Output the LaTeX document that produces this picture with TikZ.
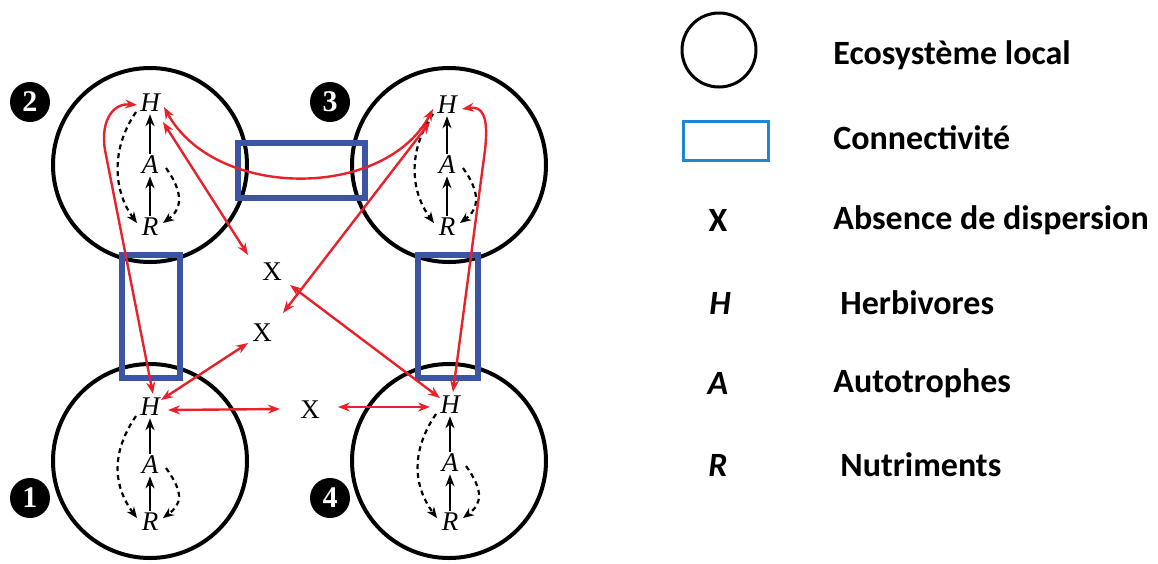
\documentclass[tikz,border=0pt]{standalone}
\usepackage{fontspec}
\setmainfont{Liberation Serif}
\newfontfamily\legfont{Carlito}
\usetikzlibrary{arrows.meta,calc}
\definecolor{redarr}{HTML}{E8222B}
\definecolor{boxblue}{HTML}{3B55A2}
\definecolor{legblue}{HTML}{1F86CF}
\tikzset{
  eco/.style={circle,draw=black,line width=2pt,minimum size=97pt,inner sep=0pt},
  badge/.style={circle,fill=black,minimum size=20pt,inner sep=0pt,text=white,font=\bfseries\fontsize{15}{15}\selectfont},
  sp/.style={inner sep=1pt,font=\itshape\fontsize{13.5}{13.5}\selectfont},
  xlab/.style={inner sep=1pt,font=\fontsize{13.5}{13.5}\selectfont},
  feed/.style={-{Stealth[length=6pt,width=4.5pt]},line width=1.4pt},
  recyc/.style={-{Stealth[length=5.5pt,width=4.5pt]},line width=1.1pt,dash pattern=on 2.5pt off 2pt},
  conn/.style={draw=boxblue,line width=3pt},
  disp/.style={{Stealth[length=6pt,width=4.5pt]}-{Stealth[length=6pt,width=4.5pt]},draw=redarr,line width=1.2pt},
  legtext/.style={anchor=west,inner sep=0pt,font=\legfont\bfseries\fontsize{17}{17}\selectfont},
  legsym/.style={inner sep=0pt,font=\legfont\bfseries\fontsize{17}{17}\selectfont},
}
\newcommand\foodweb[5]{%
  \node[sp] (H#1) at (#2,#3) {H};
  \node[sp] (A#1) at (#2,#4) {A};
  \node[sp] (R#1) at (#2,#5) {R};
  \draw[feed] (A#1.north) -- (H#1.south);
  \draw[feed] (R#1.north) -- (A#1.south);
  \draw[recyc] ($(H#1)+(-14,9)$) .. controls ($(H#1)+(-42,50)$) and ($(R#1)+(-34,-32)$) .. ($(R#1)+(-13,-4)$);
  \draw[recyc] ($(A#1)+(16,3)$) .. controls ($(A#1)+(34,28)$) and ($(R#1)+(32,-18)$) .. ($(R#1)+(13,-4)$);
}
\begin{document}
\begin{tikzpicture}[x=0.5pt,y=-0.5pt]
\useasboundingbox (0,0) rectangle (1158,563);
% ecosystems
\node[eco] (c2) at (150,165) {};
\node[eco] (c3) at (449,165) {};
\node[eco] (c1) at (150,461) {};
\node[eco] (c4) at (449,461) {};
% badges
\node[badge] (n2) at (30,102) {2};
\node[badge] (n3) at (330,102) {3};
\node[badge] (n1) at (30,498) {1};
\node[badge] (n4) at (330,498) {4};
% food webs
\foodweb{2}{150}{103}{165}{227}
\foodweb{3}{447}{105}{165}{227}
\foodweb{1}{150}{407}{465}{522}
\foodweb{4}{450}{405}{463}{522}
% connectivity boxes
\draw[conn] (238,143) rectangle (365,198);
\draw[conn] (122,255) rectangle (180,378);
\draw[conn] (418,255) rectangle (478,378);
% no dispersion marks
\node[xlab] (X1) at (272,272) {X};
\node[xlab] (X2) at (262,333) {X};
\node[xlab] (X3) at (310,410) {X};
% dispersion arrows
\draw[disp] ($(H2)+(14,4)$) .. controls (215,200) and (385,200) .. ($(H3)+(-14,4)$);
\draw[disp] ($(H2)+(13,19)$) -- ($(X1)+(-24,-17)$);
\draw[disp] ($(H3)+(-17,17)$) -- ($(X2)+(21,-20)$);
\draw[disp] ($(X1)+(18,13)$) -- ($(H4)+(-10,-7)$);
\draw[disp] ($(H1)+(11,-7)$) -- ($(X2)+(-14,10)$);
\draw[disp] ($(H1)+(18,3)$) -- ($(X3)+(-30,-1)$);
\draw[disp] ($(X3)+(28,-3)$) -- ($(H4)+(-20,2)$);
\draw[disp] ($(H1)+(3,-13)$) -- (105,150) .. controls (100,118) and (115,103) .. ($(H2)+(-13,2)$);
\draw[disp] ($(H4)+(3,-13)$) -- (485,150) .. controls (489,115) and (482,106) .. ($(H3)+(15,4)$);
% legend
\node[circle,draw=black,line width=1.5pt,minimum size=37pt,inner sep=0pt] (lc) at (719,50) {};
\node[legtext] (t1) at (833,55) {Ecosystème local};
\draw[draw=legblue,line width=1.5pt] (683,121) rectangle (768,160);
\node[legtext] (t2) at (833,138) {Connectivité};
\node[legsym] (lx) at (718,220) {X};
\node[legtext] (t3) at (833,220) {Absence de dispersion};
\node[legsym] (lh) at (720,303) {\itshape H};
\node[legtext] (t4) at (840,303) {Herbivores};
\node[legsym] (la) at (718,383) {\itshape A};
\node[legtext] (t5) at (833,383) {Autotrophes};
\node[legsym] (lr) at (718,465) {\itshape R};
\node[legtext] (t6) at (840,465) {Nutriments};
\end{tikzpicture}
\end{document}
